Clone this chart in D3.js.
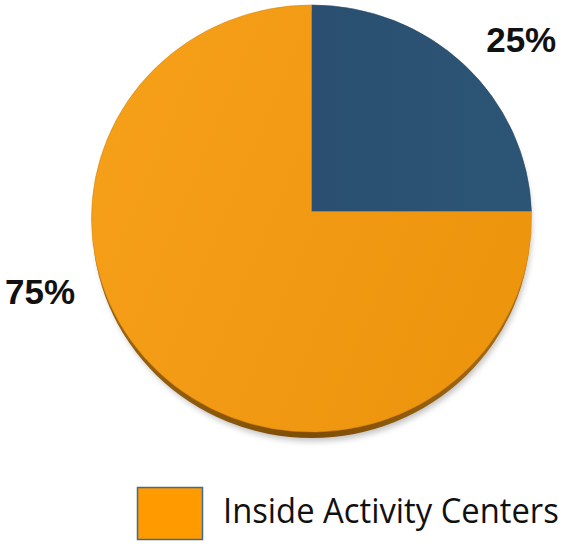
<!DOCTYPE html>
<html lang="en">
<head>
<meta charset="UTF-8" />
<title>Activity Centers Pie</title>
<script src="https://d3js.org/d3.v7.min.js"></script>
<style>
  body { margin: 0; background: #fff; }
  svg { display: block; }
</style>
</head>
<body>
<svg width="568" height="544"></svg>
<script>
// data
const categories = ["Outside Activity Centers", "Inside Activity Centers"];
const values = [25, 75];
const colors = ["#2b5373", "#f39a13"];
const labels = ["25%", "75%"];
const legendItems = ["Inside Activity Centers"];

const svg = d3.select("svg");

// pie geometry: face is an ellipse slightly tilted, apex a bit above its centre
const apex = { x: 311.5, y: 211.5 };
const face = { cx: 311.5, cy: 218.5, rx: 220, ry: 213.5 };

const defs = svg.append("defs");
const gOrange = defs.append("linearGradient").attr("id", "gOrange")
  .attr("x1", "0").attr("y1", "0").attr("x2", "1").attr("y2", "0.4");
gOrange.append("stop").attr("offset", "0").attr("stop-color", "#f7a01a");
gOrange.append("stop").attr("offset", "1").attr("stop-color", "#ee950e");
const gBlue = defs.append("linearGradient").attr("id", "gBlue")
  .attr("x1", "0").attr("y1", "0").attr("x2", "1").attr("y2", "0");
gBlue.append("stop").attr("offset", "0").attr("stop-color", "#2a4f70");
gBlue.append("stop").attr("offset", "1").attr("stop-color", "#2c5575");
const gEdge = defs.append("linearGradient").attr("id", "gEdge")
  .attr("x1", "0").attr("y1", "0").attr("x2", "1").attr("y2", "0");
gEdge.append("stop").attr("offset", "0").attr("stop-color", "#9c6510");
gEdge.append("stop").attr("offset", "0.5").attr("stop-color", "#7d4c06");
gEdge.append("stop").attr("offset", "1").attr("stop-color", "#a86e12");
defs.append("filter").attr("id", "blur")
  .attr("x", "-10%").attr("y", "-10%").attr("width", "120%").attr("height", "120%")
  .append("feGaussianBlur").attr("stdDeviation", 3);

const fills = ["url(#gBlue)", "url(#gOrange)"];

// ray from apex at clock angle a hits the ellipse
function rim(a) {
  const dx = Math.sin(a), dy = -Math.cos(a);
  const ox = (apex.x - face.cx) / face.rx, oy = (apex.y - face.cy) / face.ry;
  const ux = dx / face.rx, uy = dy / face.ry;
  const A = ux * ux + uy * uy, B = 2 * (ox * ux + oy * uy), C = ox * ox + oy * oy - 1;
  const t = (-B + Math.sqrt(B * B - 4 * A * C)) / (2 * A);
  return [apex.x + dx * t, apex.y + dy * t];
}

const pie = d3.pie().sort(null).value(d => d)(values);

// shadow + thickness
svg.append("ellipse")
  .attr("cx", face.cx + 2).attr("cy", face.cy + 9)
  .attr("rx", face.rx - 2).attr("ry", face.ry)
  .attr("fill", "#000").attr("opacity", 0.25).attr("filter", "url(#blur)");
svg.append("ellipse")
  .attr("cx", face.cx).attr("cy", face.cy + 6)
  .attr("rx", face.rx - 1).attr("ry", face.ry)
  .attr("fill", "url(#gEdge)");

svg.append("g").selectAll("path")
  .data(pie)
  .enter()
  .append("path")
  .attr("d", d => {
    const p0 = rim(d.startAngle), p1 = rim(d.endAngle);
    const large = d.endAngle - d.startAngle > Math.PI ? 1 : 0;
    return `M${apex.x},${apex.y}L${p0[0]},${p0[1]}A${face.rx},${face.ry} 0 ${large} 1 ${p1[0]},${p1[1]}Z`;
  })
  .attr("fill", (d, i) => fills[i])
  .attr("stroke", (d, i) => d3.color(colors[i]).darker(0.3))
  .attr("stroke-width", 0.6);

// percentage labels, placed outside the rim
const labelPos = [
  { r: 271, a: 50.7 },
  { r: 283, a: 253.5 }
];
svg.append("g").selectAll("text")
  .data(pie)
  .enter()
  .append("text")
  .attr("x", (d, i) => apex.x + labelPos[i].r * Math.sin(labelPos[i].a * Math.PI / 180))
  .attr("y", (d, i) => apex.y - labelPos[i].r * Math.cos(labelPos[i].a * Math.PI / 180))
  .attr("dy", "0.36em")
  .attr("text-anchor", "middle")
  .attr("font-family", "Liberation Sans, Arial, sans-serif")
  .attr("font-weight", "bold")
  .attr("font-size", 35)
  .attr("fill", "#111")
  .text((d, i) => labels[i]);

// legend
const legend = svg.append("g").attr("transform", "translate(137,487)");
legend.selectAll("rect")
  .data(legendItems)
  .enter()
  .append("rect")
  .attr("x", 0.5).attr("y", 0.5)
  .attr("width", 65).attr("height", 52)
  .attr("fill", "#ff9a00")
  .attr("stroke", "#3b6c95")
  .attr("stroke-width", 1.5);
const legText = legend.selectAll("text")
  .data(legendItems)
  .enter()
  .append("text")
  .attr("font-family", "Open Sans, sans-serif")
  .attr("font-size", 34)
  .attr("fill", "#111")
  .text(d => d);
// squeeze horizontally to the narrow face used in the original
legText.each(function () {
  const w = this.getComputedTextLength();
  const sx = Math.min(1, 336 / w);
  d3.select(this).attr("transform", `translate(86,35.5) scale(${sx},1)`);
});
</script>
</body>
</html>
